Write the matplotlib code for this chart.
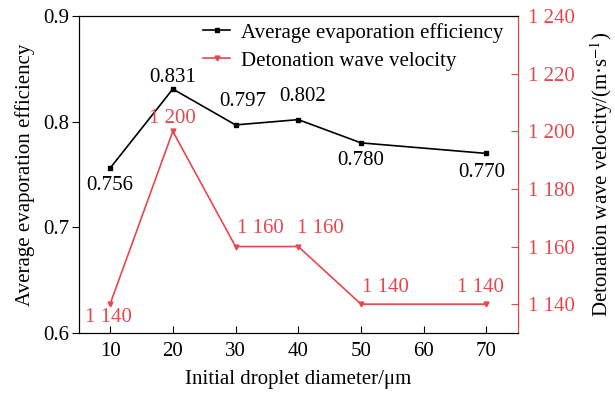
import numpy as np
import matplotlib.pyplot as plt

plt.rcParams['font.family'] = ['Liberation Serif', 'DejaVu Serif']
plt.rcParams['mathtext.fontset'] = 'stix'

diam = [10, 20, 30, 40, 50, 70]
efficiency = [0.756, 0.831, 0.797, 0.802, 0.780, 0.770]
velocity = [1140, 1200, 1160, 1160, 1140, 1140]

eff_labels = ['0.756', '0.831', '0.797', '0.802', '0.780', '0.770']
vel_labels = ['1 140', '1 200', '1 160', '1 160', '1 140', '1 140']

red = '#e8474f'
fs = 15

fig, ax = plt.subplots(figsize=(6.15, 3.94), dpi=100)
ax2 = ax.twinx()

l1, = ax.plot(diam, efficiency, color='black', marker='s', markersize=3,
              linewidth=1.2, label='Average evaporation efficiency')
l2, = ax2.plot(diam, velocity, color=red, marker='v', markersize=3.5,
               linewidth=1.2, label='Detonation wave velocity')

# data labels (offsets in pixels)
eff_off = [(0, -17), (0, 12), (7, 23), (4, 23), (0, -18), (-5, -19)]
for x, y, t, o in zip(diam, efficiency, eff_labels, eff_off):
    ax.annotate(t, (x, y), xytext=o, textcoords='offset pixels',
                ha='center', va='center', fontsize=fs, color='black')
vel_off = [(-2, -13), (0, 13), (25, 18), (22, 18), (24, 17), (-6, 17)]
for x, y, t, o in zip(diam, velocity, vel_labels, vel_off):
    ax2.annotate(t, (x, y), xytext=o, textcoords='offset pixels',
                 ha='center', va='center', fontsize=fs, color=red)

ax.set_xlim(5, 75)
ax.set_xticks([10, 20, 30, 40, 50, 60, 70])
ax.set_ylim(0.6, 0.9)
ax.set_yticks([0.6, 0.7, 0.8, 0.9])
ax2.set_ylim(1130, 1240)
ax2.set_yticks([1140, 1160, 1180, 1200, 1220, 1240])
ax2.set_yticklabels(['1 140', '1 160', '1 180', '1 200', '1 220', '1 240'])

ax.tick_params(axis='x', direction='in', labelsize=fs, length=5, pad=6.5)
ax.tick_params(axis='y', direction='out', labelsize=fs, length=5, pad=2)
ax.tick_params(axis='x', top=False)
ax2.tick_params(axis='y', direction='in', labelsize=fs, length=5, pad=7,
                colors=red)
ax2.spines['right'].set_color(red)

ax.set_xlabel('Initial droplet diameter/μm', fontsize=fs, labelpad=6.5)
ax.set_ylabel('Average evaporation efficiency', fontsize=fs, labelpad=6)
ax2.set_ylabel('Detonation wave velocity/(m·s$^{-1}$)', fontsize=fs,
               labelpad=10)

ax.legend(handles=[l1, l2], loc='upper right', bbox_to_anchor=(1.0, 1.025),
          frameon=False, fontsize=fs, handlelength=1.3, handletextpad=0.5,
          borderaxespad=0.3, labelspacing=0.4)

fig.subplots_adjust(left=0.128, right=0.842, top=0.959, bottom=0.155)
fig.savefig('out.png', dpi=100)
